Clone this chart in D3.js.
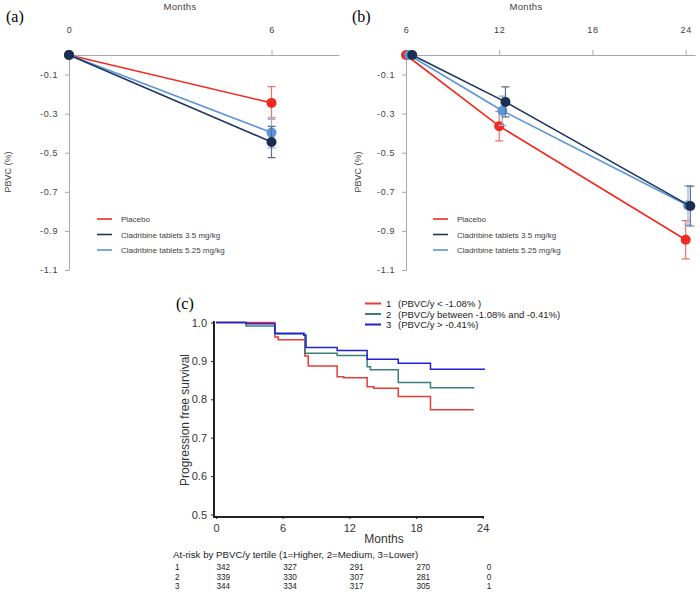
<!DOCTYPE html>
<html>
<head>
<meta charset="utf-8">
<script src="https://cdn.jsdelivr.net/npm/d3@7"></script>
<style>
  body { margin: 0; background: #fff; }
  svg { display: block; font-family: "Liberation Sans", Arial, sans-serif; }
</style>
</head>
<body>
<svg id="chart" width="700" height="597"></svg>
<script>
// panel (a) and (b): PBVC over months
const seriesNames = ["Placebo", "Cladribine tablets 3.5 mg/kg", "Cladribine tablets 5.25 mg/kg"];
const seriesColors = ["#f02a20", "#1f3560", "#5b95dc"];
const errColors = ["#f07068", "#5a6e8c", "#8fb0dc"];

const monthsA = [0, 6];
const placeboA = [0, -0.245];
const placeboErrA = [0, 0.083];
const clad35A = [0, -0.445];
const clad35ErrA = [0, 0.08];
const clad525A = [0, -0.397];
const clad525ErrA = [0, 0.078];

const placeboMonthsB = [6, 12, 24];
const clad35MonthsB = [6.4, 12.4, 24.3];
const clad525MonthsB = [6.2, 12.2, 24.15];
const placeboB = [0, -0.364, -0.945];
const placeboErrB = [0, 0.075, 0.098];
const clad35B = [0, -0.24, -0.773];
const clad35ErrB = [0, 0.077, 0.102];
const clad525B = [0, -0.285, -0.77];
const clad525ErrB = [0, 0.075, 0.1];

const yTicksAB = [-0.1, -0.3, -0.5, -0.7, -0.9, -1.1];
const xTicksA = [0, 6];
const xTicksB = [6, 12, 18, 24];

// panel (c): Kaplan-Meier
const kmNames = ["1", "2", "3"];
const kmLabels = ["(PBVC/y < -1.08% )", "(PBVC/y between -1.08% and -0.41%)", "(PBVC/y > -0.41%)"];
const kmColors = ["#e83a36", "#3e7e78", "#2020d8"];
const km1Time = [0, 5.3, 5.6, 8.0, 8.3, 10.9, 11.5, 13.6, 14.2, 16.4, 19.3, 23.2];
const km1Surv = [1.0, 0.962, 0.955, 0.913, 0.887, 0.859, 0.856, 0.833, 0.829, 0.807, 0.773, 0.773];
const km2Time = [0, 2.7, 5.3, 8.0, 10.9, 13.6, 13.9, 16.4, 19.3, 23.25];
const km2Surv = [1.0, 0.991, 0.97, 0.92, 0.914, 0.885, 0.877, 0.844, 0.83, 0.83];
const km3Time = [0, 2.7, 5.3, 7.9, 8.1, 10.9, 13.6, 16.4, 19.3, 24.2];
const km3Surv = [1.0, 0.997, 0.972, 0.967, 0.935, 0.927, 0.904, 0.894, 0.878, 0.878];
const yTicksC = [0.5, 0.6, 0.7, 0.8, 0.9, 1.0];
const xTicksC = [0, 6, 12, 18, 24];

const atRiskTimes = [0, 6, 12, 18, 24];
const atRisk1 = [342, 327, 291, 270, 0];
const atRisk2 = [339, 330, 307, 281, 0];
const atRisk3 = [344, 334, 317, 305, 1];

const svg = d3.select("#chart");

function pbvcPanel(cfg) {
  const x = d3.scaleLinear().domain(cfg.xDomain).range(cfg.xRange);
  const y = d3.scaleLinear().domain([0, -1.1]).range([55, 270]);
  const g = svg.append("g");

  // y axis
  const yaxis = g.append("g")
    .attr("transform", `translate(${cfg.xRange[0]},0)`)
    .call(d3.axisLeft(y).tickValues(yTicksAB).tickSize(4).tickSizeOuter(0).tickPadding(7)
      .tickFormat(d => d.toFixed(1)));
  // x axis on top
  const xaxis = g.append("g")
    .attr("transform", "translate(0,55)")
    .call(d3.axisTop(x).tickValues(cfg.xTicks).tickSize(5).tickSizeOuter(0).tickPadding(17));
  xaxis.selectAll(".tick line").filter(d => d === cfg.xDomain[0]).remove();
  [yaxis, xaxis].forEach(a => {
    a.select(".domain").attr("stroke", "#a8a8a8");
    a.selectAll(".tick line").attr("stroke", "#a8a8a8");
    a.selectAll(".tick text").attr("fill", "#404040").style("font-size", "9px")
      .style("letter-spacing", "0.6px");
  });

  g.append("text").attr("x", cfg.monthsX).attr("y", 10).attr("text-anchor", "middle")
    .style("font-size", "9.5px").style("letter-spacing", "0.3px").attr("fill", "#404040").text("Months");
  g.append("text").attr("transform", `translate(${cfg.pbvcX},172) rotate(-90)`)
    .attr("text-anchor", "middle").style("font-size", "9px").attr("fill", "#404040")
    .text("PBVC (%)");
  g.append("text").attr("x", cfg.tagX).attr("y", 22)
    .style("font-family", "'Liberation Serif', serif").style("font-size", "16px")
    .text(cfg.tag);

  // draw order: placebo, 5.25, 3.5 (3.5 on top)
  [0, 2, 1].forEach(i => {
    const s = cfg.series[i];
    const pts = s.m.map((m, k) => ({ m: m, v: s.v[k], e: s.e[k] }));
    g.append("path").datum(pts)
      .attr("fill", "none").attr("stroke", seriesColors[i]).attr("stroke-width", 1.6)
      .attr("d", d3.line().x(d => x(d.m)).y(d => y(d.v)));
    pts.filter(d => d.e > 0).forEach(d => {
      const cx = x(d.m), y0 = y(d.v - d.e), y1 = y(d.v + d.e);
      g.append("path").attr("fill", "none").attr("stroke", errColors[i]).attr("stroke-width", 1.2)
        .attr("d", `M${cx},${y0}V${y1}M${cx - 4},${y0}H${cx + 4}M${cx - 4},${y1}H${cx + 4}`);
    });
    g.selectAll(null).data(pts).join("circle")
      .attr("cx", d => x(d.m)).attr("cy", d => y(d.v)).attr("r", 5)
      .attr("fill", i === 1 ? "#1a2e52" : seriesColors[i]);
  });

  // legend
  const leg = g.append("g");
  seriesNames.forEach((n, i) => {
    const ly = 219 + i * 15.5;
    leg.append("line").attr("x1", cfg.legX).attr("x2", cfg.legX + 15)
      .attr("y1", ly).attr("y2", ly).attr("stroke", seriesColors[i]).attr("stroke-width", 1.6);
    leg.append("text").attr("x", cfg.legX + 24).attr("y", ly + 3)
      .style("font-size", "8px").attr("fill", "#404040").text(n);
  });
}

pbvcPanel({
  xDomain: [0, 8], xRange: [69, 339], xTicks: xTicksA,
  monthsX: 180, pbvcX: 11, tagX: 6, tag: "(a)", legX: 97,
  series: [
    { m: monthsA, v: placeboA, e: placeboErrA },
    { m: monthsA, v: clad35A, e: clad35ErrA },
    { m: monthsA, v: clad525A, e: clad525ErrA }
  ]
});

pbvcPanel({
  xDomain: [6, 24.6], xRange: [406, 695], xTicks: xTicksB,
  monthsX: 526, pbvcX: 361, tagX: 352, tag: "(b)", legX: 433,
  series: [
    { m: placeboMonthsB, v: placeboB, e: placeboErrB },
    { m: clad35MonthsB, v: clad35B, e: clad35ErrB },
    { m: clad525MonthsB, v: clad525B, e: clad525ErrB }
  ]
});

// ---- panel (c) ----
const xc = d3.scaleLinear().domain([0, 24]).range([216, 482.7]);
const yc = d3.scaleLinear().domain([0.5, 1.0]).range([514.5, 322.5]);
const gc = svg.append("g");

const ycAxis = gc.append("g").attr("transform", "translate(214,0)")
  .call(d3.axisLeft(yc).tickValues(yTicksC).tickSize(3).tickSizeOuter(0).tickPadding(4)
    .tickFormat(d => d.toFixed(1)));
ycAxis.select(".domain").attr("d", "M0,321V518").attr("stroke", "#222").attr("stroke-width", 2);
const xcAxis = gc.append("g").attr("transform", "translate(0,517)")
  .call(d3.axisBottom(xc).tickValues(xTicksC).tickSize(2).tickSizeOuter(0).tickPadding(5));
xcAxis.select(".domain").attr("d", "M213,0H484").attr("stroke", "#222").attr("stroke-width", 2);
[ycAxis, xcAxis].forEach(a => {
  a.selectAll(".tick line").attr("stroke", "#222");
  a.selectAll(".tick text").attr("fill", "#333").style("font-size", "11px");
});

gc.append("text").attr("x", 384).attr("y", 543).attr("text-anchor", "middle")
  .style("font-size", "12px").attr("fill", "#333").text("Months");
gc.append("text").attr("transform", "translate(189,420) rotate(-90)").attr("text-anchor", "middle")
  .style("font-size", "12px").attr("fill", "#333").text("Progression free survival");
gc.append("text").attr("x", 176).attr("y", 309)
  .style("font-family", "'Liberation Serif', serif").style("font-size", "16px").text("(c)");

const kmData = [
  km1Time.map((t, i) => [t, km1Surv[i]]),
  km2Time.map((t, i) => [t, km2Surv[i]]),
  km3Time.map((t, i) => [t, km3Surv[i]])
];
const kmLine = d3.line().x(d => xc(d[0])).y(d => yc(d[1])).curve(d3.curveStepAfter);
kmData.forEach((d, i) => {
  gc.append("path").datum(d).attr("fill", "none").attr("stroke", kmColors[i])
    .attr("stroke-width", 1.5).attr("d", kmLine);
});

// legend (c)
kmNames.forEach((n, i) => {
  const ly = 303.5 + i * 10.5;
  gc.append("line").attr("x1", 365).attr("x2", 381).attr("y1", ly).attr("y2", ly)
    .attr("stroke", kmColors[i]).attr("stroke-width", 2);
  gc.append("text").attr("x", 386).attr("y", ly + 3.5).style("font-size", "9.5px")
    .attr("fill", "#222").text(n);
  gc.append("text").attr("x", 398).attr("y", ly + 3.5).style("font-size", "9.5px")
    .attr("fill", "#222").text(kmLabels[i]);
});

// at-risk table
gc.append("text").attr("x", 173).attr("y", 558).style("font-size", "9.7px").attr("fill", "#222")
  .text("At-risk by PBVC/y tertile (1=Higher, 2=Medium, 3=Lower)");
[atRisk1, atRisk2, atRisk3].forEach((row, r) => {
  const ry = 570 + r * 9.5;
  gc.append("text").attr("x", 175).attr("y", ry).style("font-size", "8.2px").attr("fill", "#222")
    .text(kmNames[r]);
  row.forEach((v, k) => {
    gc.append("text").attr("x", xc(atRiskTimes[k]) + (k === 4 ? 4 : 0.5)).attr("y", ry)
      .style("font-size", "8.2px").attr("fill", "#222").text(v);
  });
});
</script>
</body>
</html>
